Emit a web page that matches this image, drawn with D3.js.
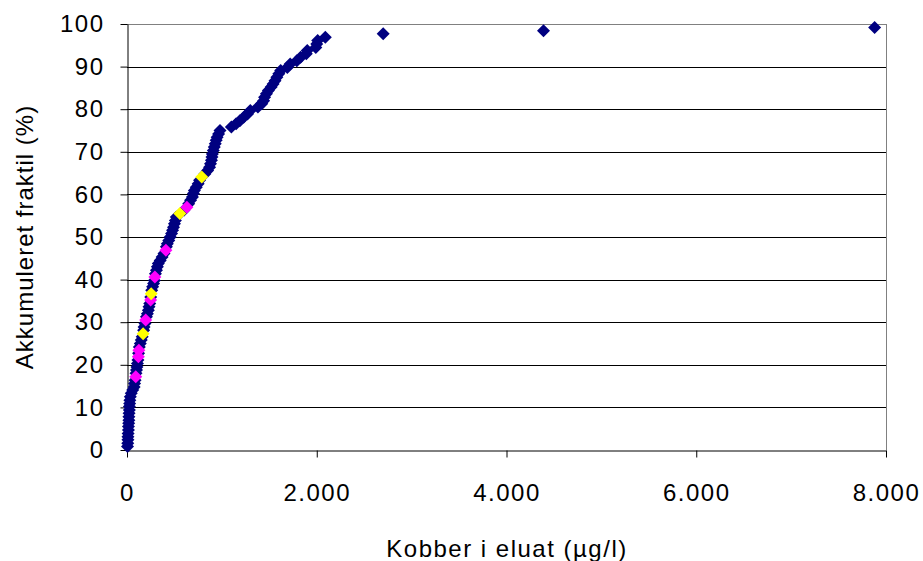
<!DOCTYPE html>
<html>
<head>
  <meta charset="utf-8">
  <title>Kobber i eluat</title>
  <script src="https://d3js.org/d3.v7.min.js"></script>
  <style>
    body { margin: 0; background: #fff; }
    svg { display: block; }
    .tick text, .title {
      font-family: "Liberation Sans", Arial, sans-serif;
      font-size: 24px;
      letter-spacing: 1.5px;
      fill: #000;
    }
    .ytitle { letter-spacing: 1px; }
  </style>
</head>
<body>
  <div id="chart"></div>
  <script>
    // cumulative fraction data
    var blueX = [5,8,10,10,12,15,15,18,20,20,22,25,25,28,30,35,45,60,75,80,85,95,100,105,110,115,122,130,140,150,160,175,180,190,205,215,225,232,240,250,260,270,280,288,300,310,320,330,350,370,390,415,425,440,455,470,480,490,500,510,520,600,650,670,690,700,710,730,750,765,820,850,870,880,890,895,900,910,920,930,940,950,965,980,1100,1150,1190,1230,1270,1300,1380,1420,1440,1450,1470,1490,1520,1540,1560,1580,1600,1620,1690,1720,1790,1830,1890,1900,1990,2000,2010,2090,2700,4390,7880];
    var blueY = [0.8,1.6,2.4,3.1,3.9,4.7,5.5,6.3,7.0,7.8,8.6,9.4,10.2,10.9,11.7,12.5,13.3,14.1,14.8,15.6,16.4,18.0,18.8,19.5,20.3,21.1,22.7,24.2,25.0,25.8,26.6,28.1,28.9,29.7,31.3,32.0,32.8,33.6,34.4,35.9,37.5,38.3,39.1,39.8,41.4,42.2,43.0,43.8,44.5,45.3,46.1,47.7,48.4,49.2,50.0,50.8,51.6,52.3,53.1,53.9,54.7,56.3,57.8,58.6,59.4,60.2,60.9,61.7,62.5,63.3,64.8,65.6,66.4,67.2,68.0,68.8,69.5,70.3,71.1,71.9,72.7,73.4,74.2,75.0,75.8,76.6,77.3,78.1,78.9,79.7,80.5,81.3,82.0,82.8,83.6,84.4,85.2,85.9,86.7,87.5,88.3,89.1,89.8,90.6,91.4,92.2,93.0,93.8,94.5,95.3,96.1,96.9,97.7,98.4,99.2];
    var magentaX = [92,120,125,197,249,294,410,631];
    var magentaY = [17.2,21.9,23.4,30.5,35.2,40.6,46.9,57.0];
    var yellowX = [170,255,557,788];
    var yellowY = [27.3,36.7,55.5,64.1];

    var xTicks = [0,2000,4000,6000,8000];
    var yTicks = [0,10,20,30,40,50,60,70,80,90,100];

    var W = 923, H = 561;
    var margin = {top: 24, right: 37, bottom: 111, left: 127};
    var width = W - margin.left - margin.right,
        height = H - margin.top - margin.bottom;

    var svg = d3.select("#chart").append("svg")
        .attr("width", W)
        .attr("height", H);
    var g = svg.append("g")
        .attr("transform", "translate(" + margin.left + "," + margin.top + ")");

    var x = d3.scaleLinear().domain([0, 8000]).range([0, width]);
    var y = d3.scaleLinear().domain([0, 100]).range([height, 0]);

    var da = d3.formatLocale({decimal: ",", thousands: ".", grouping: [3], currency: ["", ""]});
    var fmt = da.format(",.0f");

    // gridlines
    g.append("g").selectAll("line")
      .data(yTicks.slice(1))
      .enter().append("line")
        .attr("x1", 0).attr("x2", width)
        .attr("y1", function(d) { return Math.round(y(d)) + 0.5; })
        .attr("y2", function(d) { return Math.round(y(d)) + 0.5; })
        .attr("stroke", function(d) { return d === 100 ? "#808080" : "#000"; })
        .attr("stroke-width", 1);

    // right border
    g.append("line")
      .attr("x1", width + 0.5).attr("x2", width + 0.5)
      .attr("y1", 0).attr("y2", height)
      .attr("stroke", "#808080");

    var xAxis = g.append("g")
        .attr("transform", "translate(0," + (Math.round(height) + 0.5) + ")")
        .call(d3.axisBottom(x).tickValues(xTicks).tickFormat(fmt).tickSizeInner(7).tickSizeOuter(0).tickPadding(26));
    var yAxis = g.append("g")
        .attr("transform", "translate(0.5,0)")
        .call(d3.axisLeft(y).tickValues(yTicks).tickSizeInner(7).tickSizeOuter(0).tickPadding(16));
    [xAxis, yAxis].forEach(function(a) {
      a.select(".domain").attr("stroke", "#000");
      a.selectAll(".tick line").attr("stroke", "#000");
      a.selectAll(".tick text").attr("font-family", null).attr("font-size", null);
    });

    var diamond = "M0,-6.5L6.5,0L0,6.5L-6.5,0Z";
    function drawSeries(xs, ys, color) {
      g.append("g").selectAll("path")
        .data(xs.map(function(v, i) { return [v, ys[i]]; }))
        .enter().append("path")
          .attr("d", diamond)
          .attr("transform", function(d) { return "translate(" + x(d[0]) + "," + y(d[1]) + ")"; })
          .attr("fill", color);
    }
    drawSeries(blueX, blueY, "#000080");
    drawSeries(magentaX, magentaY, "#FF00FF");
    drawSeries(yellowX, yellowY, "#FFFF00");

    svg.append("text")
      .attr("class", "title")
      .attr("x", 507).attr("y", 557)
      .attr("text-anchor", "middle")
      .text("Kobber i eluat (µg/l)");

    svg.append("text")
      .attr("class", "title ytitle")
      .attr("transform", "translate(33,237) rotate(-90)")
      .attr("text-anchor", "middle")
      .text("Akkumuleret fraktil (%)");
  </script>
</body>
</html>
